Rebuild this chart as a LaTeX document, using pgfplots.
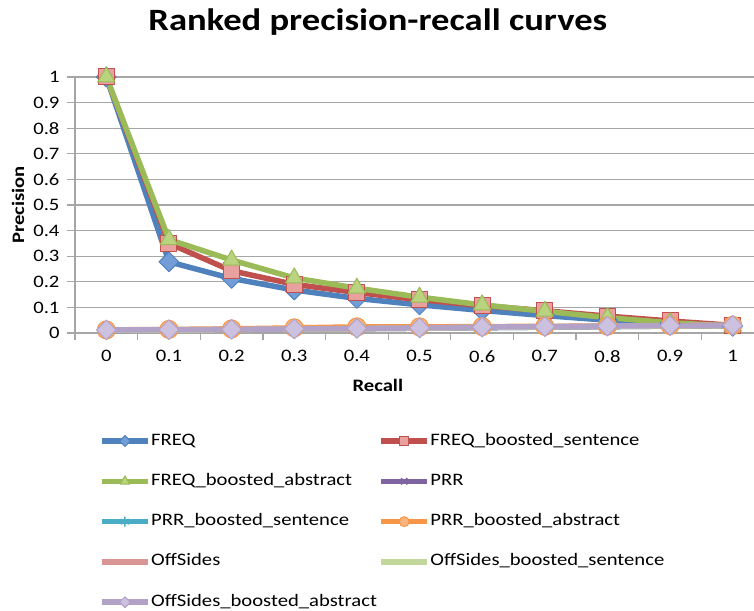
\documentclass[border=0pt]{standalone}
\usepackage{pgfplots}
\pgfplotsset{compat=1.18}
\usepackage{fontspec}
\setmainfont{Carlito}[FakeStretch=1.18]

\definecolor{cfreq}{HTML}{4F81BD}
\definecolor{cfreqf}{HTML}{729DD6}
\definecolor{csent}{HTML}{C0504D}
\definecolor{csentf}{HTML}{E8A19F}
\definecolor{cabs}{HTML}{9BBB59}
\definecolor{cabsf}{HTML}{B9D37F}
\definecolor{cprr}{HTML}{8064A2}
\definecolor{cprrs}{HTML}{4BACC6}
\definecolor{cprra}{HTML}{F79646}
\definecolor{cprraf}{HTML}{F9B57E}
\definecolor{coff}{HTML}{D99694}
\definecolor{coffs}{HTML}{C3D69B}
\definecolor{coffa}{HTML}{B3A2C7}
\definecolor{coffaf}{HTML}{CCC1DE}
\definecolor{gridgray}{HTML}{A6A6A6}

\begin{document}
\begin{tikzpicture}
\begin{axis}[
    name=ax,
    scale only axis,
    width=679pt, height=256pt,
    xmin=-0.5, xmax=10.34,
    ymin=0, ymax=1,
    enlargelimits=false,
    clip=false,
    axis lines=left,
    axis line style={-, gridgray, line width=1.3pt},
    xtick={0,...,10},
    xticklabels={0,0.1,0.2,0.3,0.4,0.5,0.6,0.7,0.8,0.9,1},
    minor xtick={-0.5,0.5,1.5,2.5,3.5,4.5,5.5,6.5,7.5,8.5,9.5},
    ytick={0,0.1,0.2,0.3,0.4,0.5,0.6,0.7,0.8,0.9,1},
    yticklabels={0,0.1,0.2,0.3,0.4,0.5,0.6,0.7,0.8,0.9,1},
    tick align=outside,
    x tick style={draw=none},
    minor x tick style={draw=gridgray, line width=1.3pt},
    minor tick length=7pt,
    y tick style={gridgray, line width=1.3pt},
    major tick length=8pt,
    ymajorgrids,
    grid style={gridgray, line width=1.3pt},
    tick label style={font=\fontsize{17.5}{20}\selectfont},
    xticklabel style={yshift=-6pt},
    yticklabel style={xshift=-4pt},
    /pgf/number format/assume math mode=true,
    title={Ranked precision-recall curves},
    title style={font=\bfseries\fontsize{31}{36}\selectfont, at={(axis description cs:0.446,1.157)}, anchor=base},
    xlabel={Recall},
    xlabel style={font=\bfseries\fontsize{17.5}{20}\selectfont, at={(axis description cs:0.446,-0.23)}, anchor=base},
    ylabel={Precision},
    ylabel style={font=\bfseries\fontsize{17.5}{20}\selectfont, at={(axis description cs:-0.084,0.5)}, anchor=center, rotate=0},
    legend columns=2,
    legend cell align=left,
    legend style={draw=none, fill=none, at={(axis description cs:0.0354,-0.388)}, anchor=north west,
        font=\fontsize{17.5}{20}\selectfont, row sep=23.3pt, inner sep=0pt,
        nodes={inner sep=0.5pt, text height=12pt, text depth=4pt},
        /tikz/every even column/.append style={column sep=1pt}},
    legend image code/.code={\draw[mark repeat=2, mark phase=2, #1, every mark/.append style={scale=0.55}]
        plot coordinates {(0pt,0pt) (23pt,0pt) (46pt,0pt)};},
    every axis plot/.append style={line width=5.5pt, line join=round},
]
% FREQ
\addplot[cfreq, mark=square*, mark size=7pt, mark options={rotate=45, fill=cfreqf, draw=cfreq, line width=1pt}]
  coordinates {(0,1) (1,0.278) (2,0.213) (3,0.168) (4,0.135) (5,0.11) (6,0.088) (7,0.068) (8,0.05) (9,0.038) (10,0.026)};
\addlegendentry{FREQ}
% FREQ_boosted_sentence
\addplot[csent, mark=square*, mark size=8pt, mark options={fill=csentf, draw=csent, line width=1pt}]
  coordinates {(0,1) (1,0.35) (2,0.243) (3,0.19) (4,0.158) (5,0.13) (6,0.107) (7,0.087) (8,0.066) (9,0.047) (10,0.03)};
\addlegendentry{FREQ\_boosted\_sentence}
% FREQ_boosted_abstract
\addplot[cabs, mark=triangle*, mark size=10pt, mark options={fill=cabsf, draw=cabs, line width=1pt}]
  coordinates {(0,1) (1,0.365) (2,0.285) (3,0.215) (4,0.175) (5,0.14) (6,0.11) (7,0.085) (8,0.06) (9,0.04) (10,0.027)};
\addlegendentry{FREQ\_boosted\_abstract}
% PRR
\addplot[cprr, mark=x, mark size=8pt, mark options={draw=cprr, line width=1.5pt}]
  coordinates {(0,0.01) (1,0.012) (2,0.013) (3,0.015) (4,0.017) (5,0.019) (6,0.021) (7,0.023) (8,0.025) (9,0.027) (10,0.029)};
\addlegendentry{PRR}
% PRR_boosted_sentence
\addplot[cprrs, mark=asterisk, mark size=9pt, mark options={draw=cprrs, line width=1.5pt}]
  coordinates {(0,0.01) (1,0.012) (2,0.013) (3,0.015) (4,0.017) (5,0.019) (6,0.021) (7,0.023) (8,0.025) (9,0.027) (10,0.029)};
\addlegendentry{PRR\_boosted\_sentence}
% PRR_boosted_abstract
\addplot[cprra, mark=*, mark size=9pt, mark options={fill=cprraf, draw=cprra, line width=1pt}]
  coordinates {(0,0.012) (1,0.014) (2,0.016) (3,0.02) (4,0.024) (5,0.024) (6,0.025) (7,0.026) (8,0.027) (9,0.029) (10,0.03)};
\addlegendentry{PRR\_boosted\_abstract}
% OffSides
\addplot[coff, mark=none]
  coordinates {(0,0.011) (1,0.012) (2,0.013) (3,0.015) (4,0.017) (5,0.019) (6,0.022) (7,0.024) (8,0.026) (9,0.028) (10,0.029)};
\addlegendentry{OffSides}
% OffSides_boosted_sentence
\addplot[coffs, mark=none]
  coordinates {(0,0.011) (1,0.012) (2,0.013) (3,0.015) (4,0.017) (5,0.019) (6,0.022) (7,0.024) (8,0.026) (9,0.028) (10,0.029)};
\addlegendentry{OffSides\_boosted\_sentence}
% OffSides_boosted_abstract
\addplot[coffa, mark=square*, mark size=7pt, mark options={rotate=45, fill=coffaf, draw=coffa, line width=1pt}]
  coordinates {(0,0.012) (1,0.013) (2,0.014) (3,0.016) (4,0.018) (5,0.02) (6,0.023) (7,0.025) (8,0.027) (9,0.029) (10,0.03)};
\addlegendentry{OffSides\_boosted\_abstract}
\end{axis}
\pgfresetboundingbox
\path[use as bounding box] ([shift={(-75pt,-277pt)}]ax.south west) rectangle ([shift={(0pt,77pt)}]ax.north east);
\end{tikzpicture}
\end{document}
